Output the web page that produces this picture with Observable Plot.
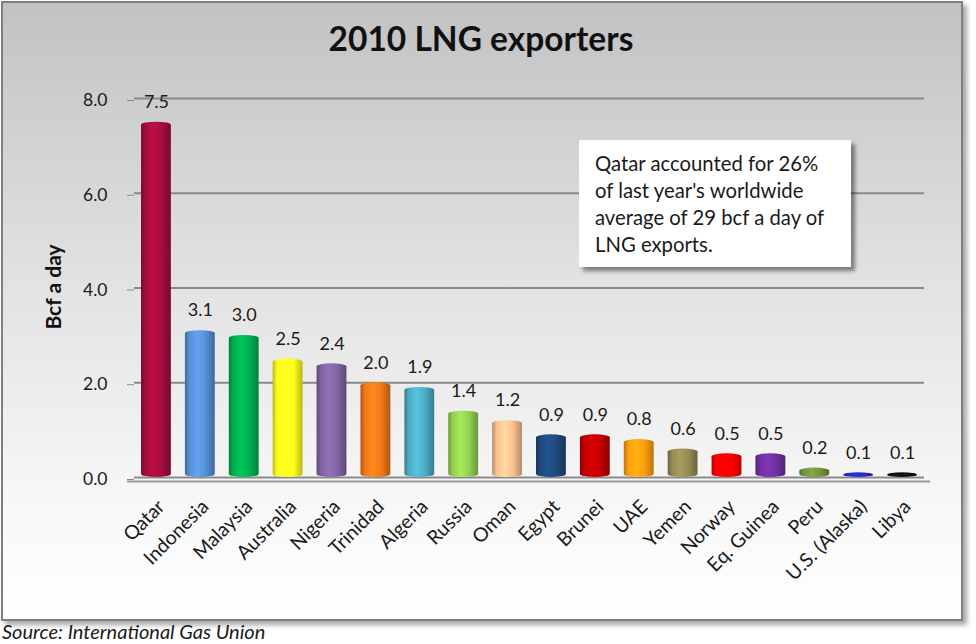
<!DOCTYPE html>
<html>
<head>
<meta charset="utf-8">
<script src="https://cdn.jsdelivr.net/npm/d3@7"></script>
<script src="https://cdn.jsdelivr.net/npm/@observablehq/plot@0.6"></script>
<style>
  html, body { margin: 0; padding: 0; background: #ffffff; }
  #wrap { position: relative; width: 976px; height: 644px; overflow: hidden; font-family: Lato, "Open Sans", sans-serif; }
  #frame { position: absolute; left: 1px; top: 1px; width: 958px; height: 616px; border: 2px solid #7f7f7f;
           background: linear-gradient(to bottom, #c2c2c2 0%, #e2e2e2 45%, #f7f7f7 80%, #ffffff 100%);
           box-shadow: 4px 4px 5px rgba(0,0,0,0.35); }
  #title { position: absolute; left: 0; width: 962px; top: 18px; text-align: center; font-weight: bold; font-size: 33.5px; color: #111; }
  #chart { position: absolute; left: 0; top: 70px; }
  #ylabel { position: absolute; left: 52px; top: 287px; transform: translate(-50%, -50%) rotate(-90deg); white-space: nowrap;
            font-weight: bold; font-size: 21px; color: #111; }
  #note { position: absolute; left: 579px; top: 140px; width: 256px; height: 117px; background: #fff;
          box-shadow: 4px 4px 4px rgba(0,0,0,0.45); padding: 10px 0 0 16px; font-size: 20.3px; line-height: 27px; color: #1a1a1a; white-space: nowrap; }
  #source { position: absolute; left: 2px; top: 619px; font-style: italic; font-size: 20px; color: #1a1a1a; white-space: nowrap; }
  #defs { position: absolute; width: 0; height: 0; }
</style>
</head>
<body>
<div id="wrap">
  <div id="frame"></div>
  <div id="title">2010 LNG exporters</div>
  <div id="chart"></div>
  <div id="ylabel">Bcf a day</div>
  <div id="note">Qatar accounted for 26%<br>of last year's worldwide<br>average of 29 bcf a day of<br>LNG exports.</div>
  <div id="source">Source: International Gas Union</div>
</div>
<svg id="defs"><defs id="gradDefs"></defs></svg>
<script>
const countries = ["Qatar","Indonesia","Malaysia","Australia","Nigeria","Trinidad","Algeria","Russia","Oman","Egypt","Brunei","UAE","Yemen","Norway","Eq. Guinea","Peru","U.S. (Alaska)","Libya"];
const values = [7.5, 3.1, 3.0, 2.5, 2.4, 2.0, 1.9, 1.4, 1.2, 0.9, 0.9, 0.8, 0.6, 0.5, 0.5, 0.2, 0.1, 0.1];
const barColors = ["#a50d3d","#5790d6","#00b050","#ffff1a","#8064a2","#f07818","#4bacc6","#92d050","#fac090","#1f497d","#c00000","#ff9e0f","#948a54","#ff0000","#7030a0","#77933c","#2727c8","#111111"];
const yTicks = [0, 2, 4, 6, 8];

// cylinder-like horizontal gradients
const defs = d3.select("#gradDefs");
barColors.forEach((c, i) => {
  const base = d3.color(c);
  const g = defs.append("linearGradient").attr("id", "g" + i).attr("x1", "0%").attr("x2", "100%").attr("y1", "0%").attr("y2", "0%");
  const stops = [[0, base.darker(0.9)], [0.15, base], [0.42, base.brighter(0.35)], [0.7, base], [1, base.darker(0.9)]];
  stops.forEach(([o, col]) => g.append("stop").attr("offset", o).attr("stop-color", col.formatHex()));
});

const data = countries.map((name, i) => ({name, value: values[i], fill: `url(#g${i})`}));

const chart = Plot.plot({
  width: 976,
  height: 550,
  marginTop: 28,
  marginBottom: 143,
  marginLeft: 134,
  marginRight: 52,
  style: {background: "transparent", fontFamily: "Lato, 'Open Sans', sans-serif", color: "#1a1a1a"},
  x: {domain: countries, paddingInner: 0.32, paddingOuter: 0.16, round: false, label: null},
  y: {domain: [0, 8], label: null},
  color: {type: "identity"},
  marks: [
    Plot.ruleY(yTicks, {y: d => d, stroke: "#8a8a8a", strokeWidth: 2}),
    Plot.ruleY([0], {y: d => d, dy: 4, stroke: "#9a9a9a", strokeWidth: 2, insetLeft: -7, insetRight: -6}),
    Plot.axisY({ticks: yTicks, tickFormat: d => d.toFixed(1), tickSize: 7, tickPadding: 20, fontSize: 17.5, stroke: "#8a8a8a", dy: 2, label: null}),
    Plot.axisX({tickRotate: -45, tickSize: 0, tickPadding: 26, dx: 5, fontSize: 19.5, label: null}),
    Plot.barY(data, {x: "name", y: "value", fill: "fill", rx: 15, ry: 3}),
    Plot.text(data, {x: "name", y: "value", text: d => d.value.toFixed(1), dy: -20, fontSize: 18, fill: "#1a1a1a"})
  ]
});
document.getElementById("chart").appendChild(chart);
</script>
</body>
</html>
